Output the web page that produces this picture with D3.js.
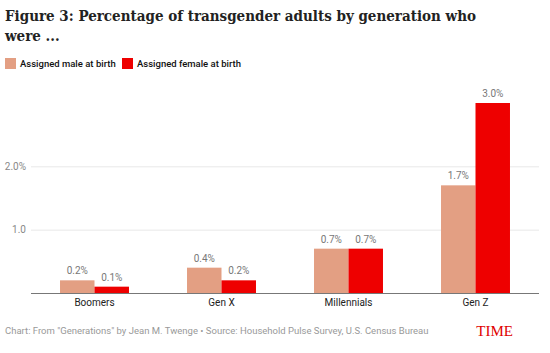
<!DOCTYPE html>
<html>
<head>
<meta charset="utf-8">
<script src="https://cdn.jsdelivr.net/npm/d3@7"></script>
<style>
  body { margin: 0; background: #fff; }
  svg { display: block; }
</style>
</head>
<body>
<div id="chart"></div>
<script>
const WIDTH = 550,
      HEIGHT = 353,
      PLOT = Object.freeze({ LEFT: 31, RIGHT: 539, TOP: 103, BOTTOM: 293 })

const GENERATIONS = ['Boomers', 'Gen X', 'Millennials', 'Gen Z']
const SERIES = ['Assigned male at birth', 'Assigned female at birth']
const MALE_VALUES = [0.2, 0.4, 0.7, 1.7]
const FEMALE_VALUES = [0.1, 0.2, 0.7, 3.0]
const Y_TICKS = [1.0, 2.0]
const Y_TICK_LABELS = ['1.0', '2.0%']
const COLORS = ['#e39f83', '#ee0000']

const rows = GENERATIONS.map((g, i) => ({
  generation: g,
  values: [MALE_VALUES[i], FEMALE_VALUES[i]]
}))

const svg = d3.select('#chart')
  .append('svg')
  .attr('width', WIDTH)
  .attr('height', HEIGHT)

// title
const title = svg.append('text')
  .attr('x', 5)
  .attr('y', 21)
  .style('font-family', '"DejaVu Serif Condensed", "DejaVu Serif", serif')
  .style('font-weight', 'bold')
  .style('font-size', '15px')
  .style('fill', '#222')
title.append('tspan').attr('x', 5).text('Figure 3: Percentage of transgender adults by generation who')
title.append('tspan').attr('x', 5).attr('dy', 20).text('were ...')

// legend
const legend = svg.append('g').attr('transform', 'translate(5, 57)')
const legendX = [0, 117]
SERIES.forEach((s, i) => {
  const g = legend.append('g').attr('transform', `translate(${legendX[i]}, 0)`)
  g.append('rect')
    .attr('width', 11)
    .attr('height', 11)
    .attr('y', 1)
    .attr('fill', COLORS[i])
  g.append('text')
    .attr('x', 15)
    .attr('y', 10)
    .style('font-family', 'Roboto, sans-serif')
    .style('font-weight', 500)
    .style('font-size', '9.5px')
    .style('fill', '#111')
    .text(s)
})

const x0 = d3.scaleBand()
  .domain(GENERATIONS)
  .range([PLOT.LEFT, PLOT.RIGHT])
  .paddingInner(0.457)
  .paddingOuter(0.2285)

const x1 = d3.scaleBand()
  .domain(d3.range(SERIES.length))
  .range([0, x0.bandwidth()])

const y = d3.scaleLinear()
  .domain([0, 3.0])
  .range([PLOT.BOTTOM, PLOT.TOP])

// grid + y labels
const yAxis = d3.axisLeft(y)
  .tickValues(Y_TICKS)
  .tickSize(-(PLOT.RIGHT - PLOT.LEFT))
  .tickPadding(5)
  .tickFormat((d, i) => Y_TICK_LABELS[i])

svg.append('g')
  .attr('transform', `translate(${PLOT.LEFT}, 0)`)
  .call(yAxis)
  .call(g => g.select('.domain').remove())
  .call(g => g.selectAll('line').attr('stroke', '#e8e8e8'))
  .call(g => g.selectAll('text')
    .style('font-family', 'Roboto, sans-serif')
    .style('font-size', '10px')
    .style('fill', '#888'))

// bars
const groups = svg.append('g')
  .selectAll('g')
  .data(rows)
  .join('g')
  .attr('transform', d => `translate(${x0(d.generation)}, 0)`)

groups.selectAll('rect')
  .data(d => d.values.map((v, i) => ({ v, i })))
  .join('rect')
  .attr('x', d => x1(d.i))
  .attr('y', d => y(d.v))
  .attr('width', x1.bandwidth())
  .attr('height', d => y(0) - y(d.v))
  .attr('fill', d => COLORS[d.i])

groups.selectAll('text')
  .data(d => d.values.map((v, i) => ({ v, i })))
  .join('text')
  .attr('x', d => x1(d.i) + x1.bandwidth() / 2)
  .attr('y', d => y(d.v) - 6)
  .attr('text-anchor', 'middle')
  .style('font-family', 'Roboto, sans-serif')
  .style('font-size', '10px')
  .style('fill', '#777')
  .text(d => d.v.toFixed(1) + '%')

// x axis
const xAxis = d3.axisBottom(x0).tickSize(0).tickPadding(6)
svg.append('g')
  .attr('transform', `translate(0, ${PLOT.BOTTOM})`)
  .call(xAxis)
  .call(g => g.select('.domain')
    .attr('d', `M${PLOT.LEFT},0.5H${PLOT.RIGHT}`)
    .attr('stroke', '#777'))
  .call(g => g.selectAll('text')
    .style('font-family', 'Roboto, sans-serif')
    .style('font-size', '10px')
    .style('fill', '#222'))

// footer
svg.append('text')
  .attr('x', 5)
  .attr('y', 334)
  .style('font-family', 'Roboto, sans-serif')
  .style('font-size', '9.5px')
  .style('fill', '#999')
  .text('Chart: From "Generations" by Jean M. Twenge \u2022 Source: Household Pulse Survey, U.S. Census Bureau')

svg.append('text')
  .attr('x', 513)
  .attr('y', 336)
  .attr('text-anchor', 'end')
  .style('font-family', '"Liberation Serif", serif')
  .style('font-size', '15px')
  .style('fill', '#e00000')
  .text('TIME')
</script>
</body>
</html>
